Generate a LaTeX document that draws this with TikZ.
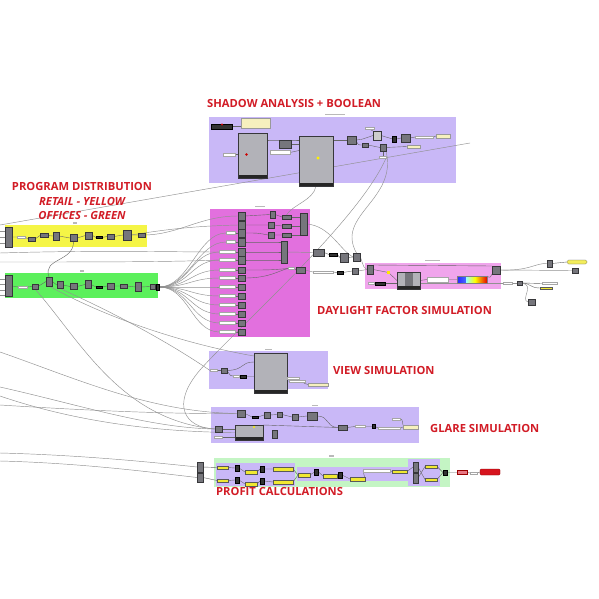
\documentclass[tikz,border=0pt]{standalone}
\usepackage{fontspec}
\newfontfamily\tf{Open Sans}
\usetikzlibrary{calc}
\definecolor{lav}{RGB}{201,184,247}
\definecolor{mag}{RGB}{226,112,222}
\definecolor{dpink}{RGB}{240,165,236}
\definecolor{yel}{RGB}{245,245,70}
\definecolor{grn}{RGB}{92,240,92}
\definecolor{lgrn}{RGB}{196,245,196}
\definecolor{cred}{RGB}{210,28,38}
\definecolor{cgray}{RGB}{118,118,124}
\definecolor{cdk}{RGB}{55,55,58}
\definecolor{clite}{RGB}{178,178,184}
\definecolor{cwire}{RGB}{145,145,145}
\definecolor{cream}{RGB}{246,240,190}
\definecolor{ypan}{RGB}{240,232,50}
\pgfdeclarelayer{bg}\pgfdeclarelayer{wires}
\pgfsetlayers{bg,wires,main}
\tikzset{
  comp/.style={fill=cgray,draw=cdk,line width=0.3pt,inner sep=0pt,outer sep=0pt},
  dkc/.style={fill=black!80,draw=black,line width=0.3pt,inner sep=0pt,outer sep=0pt},
  lite/.style={fill=clite,draw=cdk,line width=0.3pt,inner sep=0pt,outer sep=0pt,
    path picture={\fill[black!85] (path picture bounding box.south west) rectangle ([yshift=3pt]path picture bounding box.south east);}},
  wpan/.style={fill=white,draw=gray!70,line width=0.2pt,inner sep=0pt,outer sep=0pt},
  crpan/.style={fill=cream,draw=gray!80,line width=0.2pt,inner sep=0pt,outer sep=0pt},
  ypanel/.style={fill=ypan,draw=gray!70!black,line width=0.2pt,inner sep=0pt,outer sep=0pt},
  gbar/.style={fill=gray!55},
  wire/.style={draw=cwire,line width=0.45pt},
  iwire/.style={draw=black!60,line width=0.4pt},
  title/.style={text=cred,font=\tf\bfseries\fontsize{11.2}{12}\selectfont,inner sep=0pt,anchor=west},
  ititle/.style={text=cred,font=\tf\bfseries\itshape\fontsize{11.2}{12}\selectfont,inner sep=0pt},
}
\newcommand{\cp}[6][comp]{\node[#1,minimum width=#5pt,minimum height=#6pt] (#2) at (#3,#4) {};}
\begin{document}
\begin{tikzpicture}[x=1pt,y=-1pt]
\useasboundingbox (0,0) rectangle (599,599);
% ---------- groups ----------
\begin{pgfonlayer}{bg}
\fill[white] (0,0) rectangle (599,599);
\fill[lav] (209,117) rectangle (456,183);
\fill[yel] (5,225) rectangle (147,247);
\fill[grn] (5,273) rectangle (158,298);
\fill[mag] (210,209) rectangle (310,337);
\fill[dpink] (365,263) rectangle (501,289);
\fill[lav] (209,351) rectangle (328,389);
\fill[lav] (211,407) rectangle (419,443);
\fill[lgrn] (214,458) rectangle (450,487);
\fill[lav] (216,463) rectangle (295,486);
\fill[lav] (297,467) rectangle (408,481);
\fill[lav] (408,459) rectangle (440,486);
% group name marks
\fill[gbar] (325,114) rectangle (345,115.5);
\fill[gbar] (255,205.5) rectangle (265,207);
\fill[gbar] (425,259.5) rectangle (440,261);
\fill[gbar] (265,348.5) rectangle (272,350);
\fill[gbar] (312,404.5) rectangle (318,406);
\fill[gbar] (329,455) rectangle (334,456.5);
\fill[gbar] (73,222) rectangle (77,223.5);
\fill[gbar] (80,270) rectangle (84,271.5);
\end{pgfonlayer}
% ---------- titles ----------
\node[title] (tShadow) at (207,103) {SHADOW ANALYSIS + BOOLEAN};
\node[text=cred,font=\tf\bfseries\fontsize{11.2}{12}\selectfont,inner sep=0pt] (tProg) at (82,186) {PROGRAM DISTRIBUTION};
\node[ititle] (tRetail) at (82,201) {RETAIL - YELLOW};
\node[ititle] (tOffice) at (82,215) {OFFICES - GREEN};
\node[title] (tDay) at (317,310) {DAYLIGHT FACTOR SIMULATION};
\node[title] (tView) at (333,370) {VIEW SIMULATION};
\node[title] (tGlare) at (430,428) {GLARE SIMULATION};
\node[title] (tProfit) at (216,491) {PROFIT CALCULATIONS};
% ---------- shadow group ----------
\cp[dkc]{s1}{221.5}{126.5}{21}{5}
\fill[red!80!black] (222,124.5) circle (1.2);
\cp[crpan]{s2}{255.5}{123}{29}{10}
\cp[lite]{s3}{252.5}{155.5}{29}{45}
\fill[red!80!black] (246.5,154.5) circle (1.3);
\cp[wpan]{s3in}{229}{154.5}{12}{2.5}
\cp{s4}{285}{144}{12}{8}
\cp[wpan]{s5}{280}{152.5}{20}{4}
\cp[lite]{s6}{316}{161}{34}{50}
\fill[yellow] (318,158) circle (1.6);
\cp{s7}{351.5}{140}{9}{8}
\cp[wpan]{s15}{370}{128.5}{9}{2}
\cp[comp,fill=gray!40]{s8}{377}{135.5}{8}{9}
\cp[dkc]{s9}{394.5}{139}{4}{6}
\cp{s10}{405.5}{138}{9}{8}
\cp[wpan]{s16}{424}{137}{18}{1.5}
\cp[crpan]{s11}{443}{136}{14}{4}
\cp{s12}{365}{145}{6}{4}
\cp{s13}{383}{147.5}{6}{7}
\cp[crpan]{s14}{413.5}{146.5}{13}{3.5}
\cp[wpan]{s17}{383}{157}{7}{1.5}
% ---------- yellow group ----------
\cp{ya}{8.5}{237}{7}{20}
\cp[wpan]{yl}{21}{237}{8}{2}
\cp{yb}{31.5}{239}{7}{4}
\cp{yc}{44}{235.5}{8}{4}
\cp{yd}{56}{236}{6}{8}
\cp{ye}{73.5}{238}{7}{7}
\cp{yf}{89}{235.5}{7}{7}
\cp[dkc]{yg}{99}{237.5}{6}{2}
\cp{yh}{110.5}{236.5}{7}{5}
\cp{yi}{127}{235}{8}{10}
\cp{yj}{142}{235}{7}{4}
% ---------- green group ----------
\cp{ga}{8.5}{286}{7}{21}
\cp[wpan]{gll}{22.5}{287}{9}{2}
\cp{gb}{35}{286.5}{6}{5}
\cp{gc}{49}{281.5}{6}{9}
\cp{gd}{60}{285}{6}{7}
\cp{ge}{73.5}{286.5}{7}{6}
\cp{gf}{88}{284.5}{6}{8}
\cp[dkc]{gg}{99}{287}{6}{2}
\cp{gh}{110.5}{286}{7}{6}
\cp{gi}{123.5}{286}{7}{4}
\cp{gj}{138.5}{287}{6}{9}
\cp{gk}{152.5}{286.5}{5}{5}
\cp[dkc]{gl}{157.5}{287}{3}{6}
% ---------- magenta group ----------
\foreach \i/\y in {1/216,2/225,3/233,4/242,5/252,6/260}{\cp{r\i}{241.5}{\y}{7}{8}}
\foreach \i/\y in {7/270,8/278,9/287,10/296,11/305,12/314,13/323,14/332}{\cp{r\i}{241.5}{\y}{7}{6}}
\foreach \i/\y in {3/233,4/242}{\cp[wpan]{l\i}{230.5}{\y}{9}{3}}
\foreach \i/\y in {5/252,6/260,7/270,8/278,9/287,10/296,11/305,12/314,13/323,14/332}{\cp[wpan]{l\i}{227.5}{\y}{16}{3}}
\cp{m1}{272.5}{214.5}{5}{7}
\cp{m2}{271}{225}{6}{6}
\cp{m3}{271}{235}{6}{6}
\cp{mw1}{286.5}{217}{9}{4}
\cp{mw2}{286.5}{226}{9}{4}
\cp{mw3}{286.5}{235}{9}{4}
\cp{mt1}{303.5}{224}{7}{22}
\cp{mt2}{284}{252}{6}{22}
\cp{m4}{300.5}{270}{9}{6}
\cp[wpan]{ml}{291}{268.5}{6}{2}
% ---------- between magenta and daylight ----------
\cp{d1}{318.5}{252.5}{11}{7}
\cp[dkc]{d2}{333}{254.5}{8}{3}
\cp{d3}{344}{257.5}{8}{9}
\cp{d4}{356.5}{257}{7}{8}
\cp[wpan]{d5}{323}{272}{20}{2.5}
\cp[dkc]{d6}{340}{272.5}{6}{3}
\cp{d7}{355}{271}{6}{6}
% ---------- daylight group ----------
\cp{y1}{370}{269.5}{6}{9}
\fill[yellow!90!orange] (387,271) rectangle (390,274);
\coordinate (ydot) at (388.5,272.5);
\cp[lite]{y2}{408.5}{280.5}{23}{17}
\fill[cgray] (405,273) rectangle (413,286);
\cp[wpan]{y3}{437.5}{279.5}{21}{5}
\node[draw=gray,line width=0.3pt,minimum width=30pt,minimum height=7pt,inner sep=0pt,outer sep=0pt,
  path picture={
   \shade[left color=blue!85,right color=cyan!40!white] ([xshift=0pt]path picture bounding box.south west) rectangle ([xshift=9pt]path picture bounding box.north west);
   \shade[left color=cyan!40!white,right color=yellow] ([xshift=9pt]path picture bounding box.south west) rectangle ([xshift=18pt]path picture bounding box.north west);
   \shade[left color=yellow,right color=red!90!black] ([xshift=18pt]path picture bounding box.south west) rectangle (path picture bounding box.north east);}]
  (y4) at (472,279.5) {};
\cp{y5}{496}{270}{8}{8}
\cp[wpan]{y6l}{371}{283.5}{6}{2}
\cp[dkc]{y6}{380}{283.5}{10}{2.5}
% ---------- right of daylight ----------
\cp{R1}{549.5}{263.5}{5}{7}
\node[fill=ypan!80!white,draw=gray!70!black,line width=0.2pt,rounded corners=1.5pt,minimum width=20pt,minimum height=4pt,inner sep=0pt] (Rp) at (577,262) {};
\cp{R2}{575}{270.5}{6}{5}
\cp[wpan]{Rl}{507.5}{283}{9}{2}
\cp{R3}{519.5}{283}{5}{4}
\cp[wpan]{Rw}{549.5}{283.5}{15}{2}
\cp[ypanel]{Ry}{546}{288}{12}{2.5}
\cp{R4}{531.5}{302}{7}{6}
% ---------- view group ----------
\cp[wpan]{v1}{213.5}{370.5}{7}{2}
\cp{v2}{224}{370.5}{6}{5}
\cp[wpan]{v3l}{236}{376}{6}{2}
\cp[dkc]{v3}{243}{376.5}{6}{3}
\cp[lite]{v4}{270.5}{373}{33}{40}
\cp[wpan]{v5}{297}{381}{16}{2}
\cp[wpan]{v7}{293}{378}{12}{1.5}
\cp[crpan]{v6}{318}{384.5}{20}{3.5}
% ---------- glare group ----------
\cp{g1}{241}{413.5}{8}{7}
\cp[dkc]{g2}{255}{417}{6}{2.5}
\cp{g3}{267}{415}{6}{6}
\cp{g4}{279.5}{414.5}{5}{5}
\cp{g5}{295}{417}{6}{6}
\cp{g6}{312}{416}{10}{8}
\cp{g7}{342.5}{427.5}{9}{5}
\cp[wpan]{g8}{360}{426.5}{10}{2}
\cp[dkc]{g9}{373.5}{426.5}{3.5}{4}
\cp[wpan]{g10}{389}{428}{22}{1.5}
\cp[crpan]{g11}{410.5}{427}{15}{4}
\cp[wpan]{g12}{396}{419}{8}{2}
\cp[lite]{g13}{249}{432.5}{28}{15}
\fill[yellow] (254,427) circle (1.2);
\cp{g14}{218.5}{429}{7}{6}
\cp{g15}{274.5}{434}{5}{8}
\cp[wpan]{g16}{218}{437}{8}{2}
% ---------- profit group ----------
\cp{pL1}{200}{467}{6}{10}
\cp{pL2}{200}{477.5}{6}{9}
\cp[ypanel]{pa1}{222.5}{467.5}{11}{3.5}
\cp[ypanel]{pa2}{222.5}{480.5}{11}{3.5}
\cp[dkc]{pk1}{237}{468}{4}{6}
\cp[dkc]{pk2}{237}{480}{4}{6}
\cp[ypanel]{pb1}{251}{472}{12}{4}
\cp[ypanel]{pb2}{251}{484}{12}{4}
\cp[dkc]{pk3}{262}{469}{4}{6}
\cp[dkc]{pk4}{262}{481}{4}{6}
\cp[ypanel]{pc1}{283}{469}{20}{4}
\cp[ypanel]{pc2}{283}{482}{20}{4}
\cp[ypanel]{pd}{304}{475}{12}{4}
\cp[dkc]{pk5}{316.5}{472}{4}{6}
\cp[ypanel]{pe}{330}{476}{14}{4}
\cp[dkc]{pk6}{340}{475}{4}{6}
\cp[ypanel]{pf}{357.5}{479}{15}{4}
\cp[wpan]{pw}{376.5}{470.5}{27}{3}
\cp[ypanel]{pg}{399.5}{471.5}{15}{3.5}
\cp{pt1}{415.5}{467}{5}{10}
\cp{pt2}{415.5}{478}{5}{10}
\cp[ypanel]{ph1}{431}{466.5}{12}{3.5}
\cp[ypanel]{ph2}{431}{479.5}{12}{3.5}
\cp[dkc]{pk7}{445}{472.5}{4}{5}
\node[fill={rgb,255:red,232;green,120;blue,132},draw=red!60!black,line width=0.3pt,minimum width=10pt,minimum height=4pt,inner sep=0pt] (pr1) at (462,472.5) {};
\cp[wpan]{prl}{473.5}{473}{7}{1.5}
\node[fill={rgb,255:red,214;green,20;blue,30},draw=red!50!black,line width=0.3pt,minimum width=20pt,minimum height=6pt,inner sep=0pt,rounded corners=1pt] (pr2) at (490,472) {};
% ---------- edge coordinates ----------
\coordinate (eA) at (0,225);
\coordinate (eY1) at (0,231);\coordinate (eY2) at (0,237);\coordinate (eY3) at (0,243);
\coordinate (eG1) at (0,279);\coordinate (eG2) at (0,284);\coordinate (eG3) at (0,290);\coordinate (eG4) at (0,295);
\coordinate (eM5) at (0,253);\coordinate (eM6) at (0,262);
\coordinate (eL1) at (0,352);\coordinate (eL2) at (0,387);\coordinate (eL3) at (0,396);\coordinate (eL4) at (0,405);
\coordinate (eP1) at (0,453);\coordinate (eP2) at (0,461);
\coordinate (sEnd) at (470,143);
% ---------- wires ----------
\begin{pgfonlayer}{wires}
\draw[wire] (eA) -- (sEnd);
\foreach \e in {eY1,eY2,eY3}{\draw[wire] (\e) -- (ya.west |- \e);}
\foreach \e in {eG1,eG2,eG3,eG4}{\draw[wire] (\e) -- (ga.west |- \e);}
\draw[wire] (eM5) .. controls (100,250) and (170,252) .. (l5.west);
\draw[wire] (eM6) .. controls (100,262) and (170,262) .. (l6.west);
\draw[iwire] (ya.east) -- (yl.west) (yl.east) -- (yb.west) (yb.east) -- (yc.west) (yc.east) -- (yd.west) (yd.east) -- (ye.west)
  (ye.east) -- (yf.west) (yf.east) -- (yg.west) (yg.east) -- (yh.west) (yh.east) -- (yi.west) (yi.east) -- (yj.west);
\draw[iwire] (ye.south) .. controls (74,262) and (42,258) .. (gc.north);
\draw[wire] (yj.east) .. controls (180,234) and (200,216) .. (r1.west);
\draw[wire] (yi.east) .. controls (175,228) and (200,226) .. (r2.west);
\draw[iwire] (ga.east) -- (gll.west) (gll.east) -- (gb.west) (gb.east) -- (gc.west) (gc.east) -- (gd.west) (gd.east) -- (ge.west)
  (ge.east) -- (gf.west) (gf.east) -- (gg.west) (gg.east) -- (gh.west) (gh.east) -- (gi.west) (gi.east) -- (gj.west)
  (gj.east) -- (gk.west) (gk.east) -- (gl.west);
\foreach \i in {3,...,14}{\draw[wire] (gl.east) .. controls +(30,0) and +(-28,0) .. (l\i.west);}
\foreach \i in {3,...,14}{\draw[iwire] (l\i.east) -- (r\i.west);}
\draw[iwire] (r1.east) -- (m1.west) (r2.east) -- (m2.west) (r3.east) .. controls (258,233) .. (m3.west);
\draw[iwire] (m1.east) -- (mw1.west) (m2.east) -- (mw2.west) (m3.east) -- (mw3.west);
\draw[iwire] (mw1.east) -- (mt1.west |- mw1) (mw2.east) -- (mt1.west |- mw2) (mw3.east) -- (mt1.west |- mw3);
\foreach \i in {4,5,6}{\draw[iwire] (r\i.east) .. controls +(18,0) and +(-12,0) .. (mt2.west |- r\i);}
\draw[iwire] (r7.east) .. controls (270,270) .. (ml.west);
\draw[iwire] (r8.east) .. controls (270,278) and (280,270) .. (ml.west);
\draw[iwire] (ml.east) -- (m4.west);
\draw[wire] (mt2.east) .. controls (300,252) .. (d1.west);
\draw[wire] (mt1.east) .. controls (330,226) and (340,250) .. (d4.west);
\draw[iwire] (d1.east) -- (d2.west) (d2.east) -- (d3.west) (d3.east) -- (d4.west);
\draw[wire] (m4.east) -- (d5.west);
\draw[iwire] (d5.east) -- (d6.west) (d6.east) -- (d7.west);
\draw[wire] (d4.east) .. controls (362,258) and (362,268) .. (y1.west);
\draw[wire] (d7.east) -- (y1.west);
\draw[iwire] (y1.north east) -- (y5.north west);
\draw[iwire] (y1.east) -- (ydot) -- (y2.west);
\draw[iwire] (y6l.east) -- (y6.west) (y6.east) -- (y2.west |- y6);
\draw[iwire] (y2.east) -- (y3.west) (y3.east) -- (y4.west);
\draw[iwire] (y4.north east) .. controls (490,278) .. (y5.south west);
\draw[wire] (y5.east) -- (R2.west);
\draw[wire] (y5.east) .. controls (530,271) and (535,263) .. (R1.west);
\draw[iwire] (R1.east) -- (Rp.west);
\draw[wire] (Rl.east) -- (R3.west);
\draw[iwire] (R3.east) -- (Rw.west);
\draw[iwire] (R3.east) .. controls (530,283) and (530,288) .. (Ry.west);
\draw[wire] (R3.east) .. controls (535,285) and (520,300) .. (R4.west);
\draw[wire] (y2.east |- Rl) -- (Rl.west);
\draw[iwire] (s1.east) -- (s2.west |- s1);
\draw[iwire] (s3in.east) -- (s3.west |- s3in);
\draw[iwire] (s3.east |- s6.north) ++(0,4) coordinate (s3o) (s3o) .. controls (285,140) .. (s6.west |- s3o);
\draw[iwire] (s4.east) -- (s6.west |- s4);
\draw[iwire] (s5.east) -- ($(s6.west |- s5)+(0,-2)$);
\draw[iwire] (s6.east |- s7) -- (s7.west);
\draw[iwire] (s7.east) .. controls (360,140) .. (s8.west);
\draw[iwire] (s7.east) .. controls (358,145) .. (s12.west);
\draw[iwire] (s15.south) -- (s8.north west);
\draw[iwire] (s8.east) -- (s9.west) (s9.east) -- (s10.west) (s10.east) -- (s16.west) (s16.east) -- (s11.west);
\draw[iwire] (s12.east) -- (s13.west) (s13.east) -- (s14.west);
\draw[iwire] (s13.south) -- (s17.north);
\draw[wire] (s6.south) .. controls (314,200) and (292,205) .. (mw1.north);
\draw[wire] (s13.south east) .. controls (398,200) and (335,215) .. (d4.north);
\draw[wire] (s17.east) .. controls (360,220) and (235,330) .. (200,370) .. controls (170,405) and (185,428) .. (g14.west);
\draw[wire] (gb.south) .. controls (80,340) and (120,420) .. (g14.west);
\draw[wire] (gc.south) .. controls (110,320) and (190,345) .. (v4.west |- 0,356);
\draw[wire] (gd.south) .. controls (130,320) and (180,350) .. (v1.west);
\draw[wire] (eL1) .. controls (80,380) and (150,412) .. (g1.west);
\draw[wire] (eL2) .. controls (80,405) and (150,428) .. (g14.west);
\draw[wire] (eL3) .. controls (70,420) and (150,432) .. (g13.west);
\draw[wire] (eL4) .. controls (80,410) and (160,414) .. (g1.west);
\draw[iwire] (v1.east) -- (v2.west);
\draw[iwire] (v2.east) .. controls (245,370) and (240,362) .. (v4.west |- 0,362);
\draw[iwire] (v2.east) .. controls (230,372) and (228,376) .. (v3l.west);
\draw[iwire] (v3l.east) -- (v3.west) (v3.east) -- (v4.west |- v3);
\draw[iwire] (v4.east |- v5) -- (v5.west) (v5.east) .. controls (303,383) .. (v6.west);
\draw[iwire] (v4.east |- v7) -- (v7.west);
\draw[iwire] (g1.east) -- (g2.west) (g2.east) -- (g3.west) (g3.east) -- (g4.west) (g4.east) -- (g5.west) (g5.east) -- (g6.west);
\draw[iwire] (g6.east) .. controls (330,416) and (325,427) .. (g7.west);
\draw[iwire] (g13.north east) -- (g7.west);
\draw[iwire] (g7.east) -- (g8.west) (g8.east) -- (g9.west) (g9.east) -- (g10.west) (g10.east) -- (g11.west);
\draw[iwire] (g12.east) .. controls (402,419) .. (g11.north west);
\draw[iwire] (g14.east) -- (g13.west |- g14);
\draw[iwire] (g16.east) -- (g13.west |- g16);
\draw[wire] (eP1) .. controls (80,455) and (150,462) .. (pL1.west);
\draw[wire] (eP2) .. controls (80,463) and (150,472) .. (pL2.west);
\draw[iwire] (pL1.east) -- (pa1.west) (pL2.east) -- (pa2.west);
\draw[iwire] (pa1.east) -- (pk1.west) (pk1.east) -- (pb1.west) (pb1.east) -- (pk3.west) (pk3.east) -- (pc1.west);
\draw[iwire] (pa2.east) -- (pk2.west) (pk2.east) -- (pb2.west) (pb2.east) -- (pk4.west) (pk4.east) -- (pc2.west);
\draw[iwire] (pc1.east) -- (pd.west) (pc2.east) -- (pd.west);
\draw[iwire] (pd.east) -- (pk5.west) (pk5.east) -- (pe.west) (pe.east) -- (pk6.west) (pk6.east) -- (pf.west);
\draw[iwire] (pf.east) -- (pw.west) (pw.east) -- (pg.west) (pg.east) -- (pt1.west);
\draw[iwire] (pt1.east) -- (ph2.west) (pt2.east) -- (ph1.west);
\draw[iwire] (ph1.east) -- (pk7.west) (ph2.east) -- (pk7.west);
\draw[iwire] (pk7.east) -- (pr1.west) (pr1.east) -- (prl.west) (prl.east) -- (pr2.west);
\end{pgfonlayer}
\end{tikzpicture}
\end{document}
